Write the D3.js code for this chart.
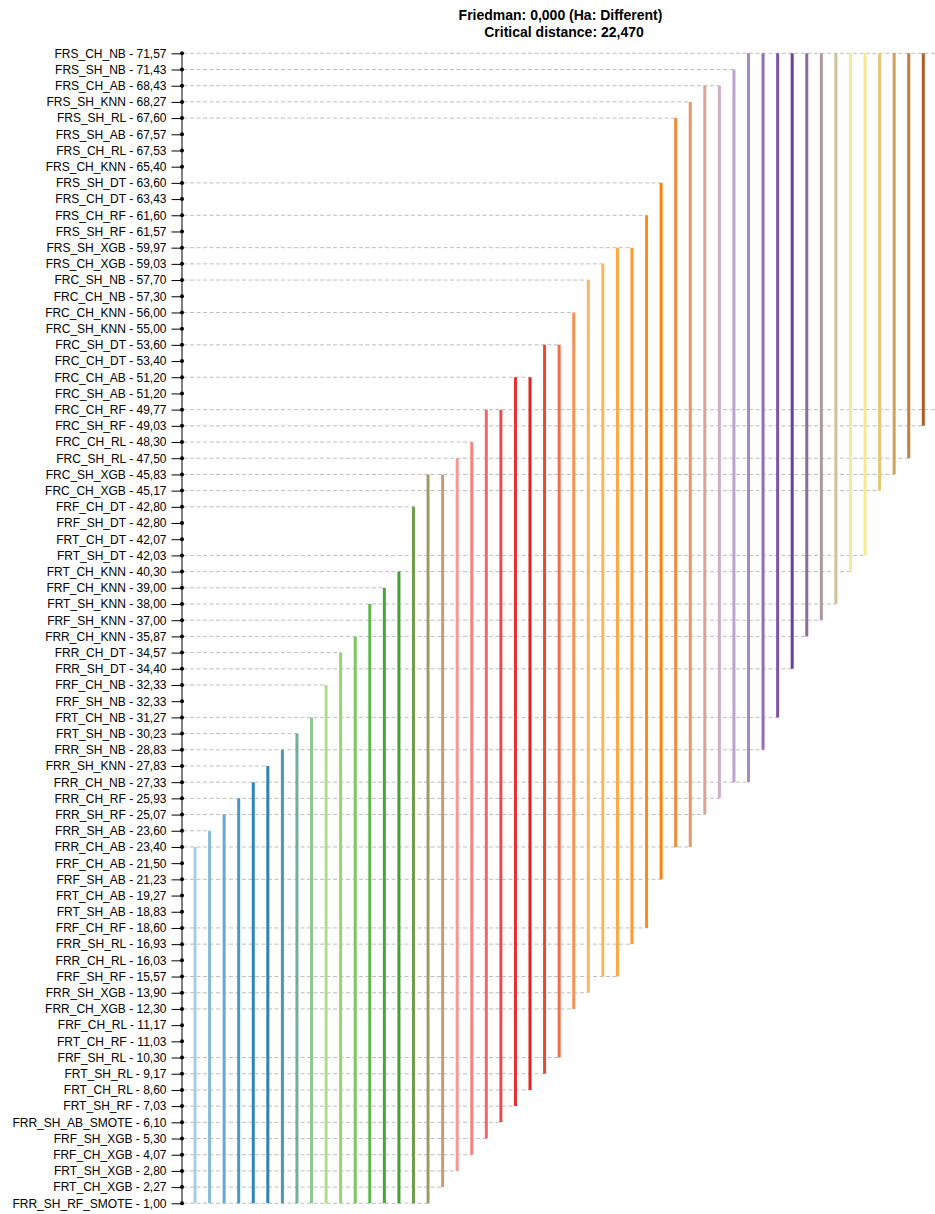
<!DOCTYPE html>
<html><head><meta charset="utf-8">
<script src="https://cdn.jsdelivr.net/npm/d3@7"></script>
<style>
body{margin:0;background:#fff}
svg{display:block}
text{font-family:"Liberation Sans",Arial,Helvetica,sans-serif}
</style>
</head><body>
<svg id="chart" width="935" height="1214"></svg>
<script>
// ---- data ----
const methods = [
"FRS_CH_NB","FRS_SH_NB","FRS_CH_AB","FRS_SH_KNN","FRS_SH_RL","FRS_SH_AB","FRS_CH_RL","FRS_CH_KNN",
"FRS_SH_DT","FRS_CH_DT","FRS_CH_RF","FRS_SH_RF","FRS_SH_XGB","FRS_CH_XGB","FRC_SH_NB","FRC_CH_NB",
"FRC_CH_KNN","FRC_SH_KNN","FRC_SH_DT","FRC_CH_DT","FRC_CH_AB","FRC_SH_AB","FRC_CH_RF","FRC_SH_RF",
"FRC_CH_RL","FRC_SH_RL","FRC_SH_XGB","FRC_CH_XGB","FRF_CH_DT","FRF_SH_DT","FRT_CH_DT","FRT_SH_DT",
"FRT_CH_KNN","FRF_CH_KNN","FRT_SH_KNN","FRF_SH_KNN","FRR_CH_KNN","FRR_CH_DT","FRR_SH_DT","FRF_CH_NB",
"FRF_SH_NB","FRT_CH_NB","FRT_SH_NB","FRR_SH_NB","FRR_SH_KNN","FRR_CH_NB","FRR_CH_RF","FRR_SH_RF",
"FRR_SH_AB","FRR_CH_AB","FRF_CH_AB","FRF_SH_AB","FRT_CH_AB","FRT_SH_AB","FRF_CH_RF","FRR_SH_RL",
"FRR_CH_RL","FRF_SH_RF","FRR_SH_XGB","FRR_CH_XGB","FRF_CH_RL","FRT_CH_RF","FRF_SH_RL","FRT_SH_RL",
"FRT_CH_RL","FRT_SH_RF","FRR_SH_AB_SMOTE","FRF_SH_XGB","FRF_CH_XGB","FRT_SH_XGB","FRT_CH_XGB","FRR_SH_RF_SMOTE"
];
const ranks = [
71.57,71.43,68.43,68.27,67.60,67.57,67.53,65.40,
63.60,63.43,61.60,61.57,59.97,59.03,57.70,57.30,
56.00,55.00,53.60,53.40,51.20,51.20,49.77,49.03,
48.30,47.50,45.83,45.17,42.80,42.80,42.07,42.03,
40.30,39.00,38.00,37.00,35.87,34.57,34.40,32.33,
32.33,31.27,30.23,28.83,27.83,27.33,25.93,25.07,
23.60,23.40,21.50,21.23,19.27,18.83,18.60,16.93,
16.03,15.57,13.90,12.30,11.17,11.03,10.30,9.17,
8.60,7.03,6.10,5.30,4.07,2.80,2.27,1.00
];
const tickLabels = methods.map((m, i) => m + " - " + ranks[i].toFixed(2).replace(".", ","));

// groups of methods not significantly different: top row and bottom row (1-based position in ranking)
const groupTop = [50,49,48,47,46,45,44,43,42,40,38,37,35,34,33,29,27,27,26,25,23,23,21,21,19,19,17,15,14,13,13,11,9,5,4,3,3,2,1,1,1,1,1,1,1,1,1,1,1,1,1];
const groupBottom = [72,72,72,72,72,72,72,72,72,72,72,72,72,72,72,72,72,71,70,69,68,67,66,65,64,63,60,59,58,58,56,55,52,50,50,48,47,46,46,44,42,39,37,36,35,33,32,28,27,26,24];
const fullWidthRows = [1, 23];
const titleLines = ["Friedman: 0,000 (Ha: Different)", "Critical distance: 22,470"];

// ---- chart ----
const svg = d3.select("#chart");
const W = 935;
const axisX = 181.5;

const y = d3.scalePoint().domain(d3.range(1, methods.length + 1)).range([53.3, 1203.3]);
const x = d3.scalePoint().domain(d3.range(groupTop.length)).range([195, 923.3]);
const color = d3.piecewise(d3.interpolateRgb, d3.schemePaired);

// title
svg.append("text").attr("x", 560.5).attr("y", 19.5).attr("text-anchor", "middle")
  .attr("font-size", 14).attr("font-weight", "bold").attr("fill", "#000").text(titleLines[0]);
svg.append("text").attr("x", 564).attr("y", 36.5).attr("text-anchor", "middle")
  .attr("font-size", 14).attr("font-weight", "bold").attr("fill", "#000").text(titleLines[1]);

// dashed guide lines (one per row, to the farthest group touching it)
const guideMap = new Map();
groupTop.forEach((t, i) => {
  [t, groupBottom[i]].forEach(r => guideMap.set(r, Math.max(guideMap.get(r) || 0, x(i))));
});
fullWidthRows.forEach(r => guideMap.set(r, W));
const guides = Array.from(guideMap, ([row, x2]) => ({row, x2}));

svg.append("g").selectAll("line").data(guides).join("line")
  .attr("x1", axisX + 2).attr("x2", d => d.x2)
  .attr("y1", d => y(d.row)).attr("y2", d => y(d.row))
  .attr("stroke", "#bdbdbd")
  .attr("stroke-width", 1).attr("stroke-dasharray", "4,2.5");

// group bars
svg.append("g").selectAll("line").data(groupTop).join("line")
  .attr("x1", (d, i) => x(i)).attr("x2", (d, i) => x(i))
  .attr("y1", d => y(d)).attr("y2", (d, i) => y(groupBottom[i]))
  .attr("stroke", (d, i) => color(i / (groupTop.length - 1)))
  .attr("stroke-width", 3);

// axis
const axis = d3.axisLeft(y).tickSize(10).tickPadding(5).tickSizeOuter(0)
  .tickFormat(r => tickLabels[r - 1]);
const gA = svg.append("g").attr("transform", `translate(${axisX},0)`).call(axis);
gA.selectAll("text").attr("font-size", 12).attr("fill", "#000")
  .style("font-family", '"Liberation Sans",Arial,Helvetica,sans-serif');
gA.select(".domain").attr("stroke", "#000");
gA.selectAll(".tick line").attr("stroke", "#000");

// markers on axis
svg.append("g").selectAll("circle").data(y.domain()).join("circle")
  .attr("cx", axisX + 0.5).attr("cy", d => y(d)).attr("r", 2).attr("fill", "#000");
</script>
</body></html>
